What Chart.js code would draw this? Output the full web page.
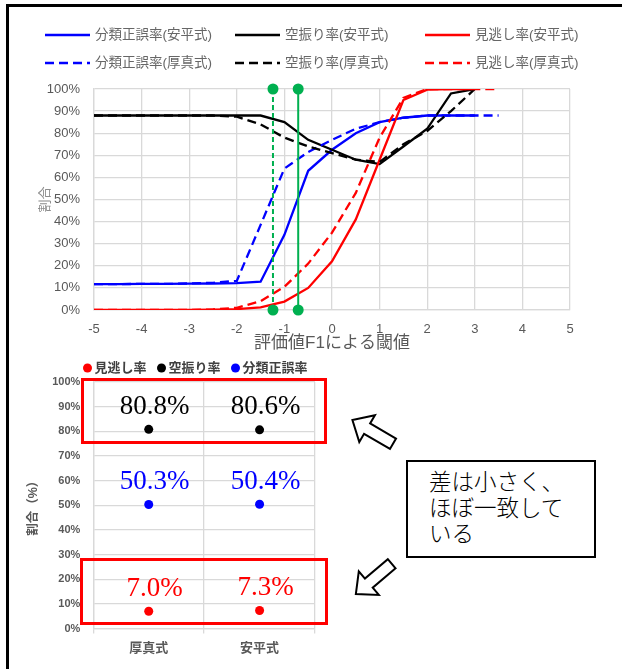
<!DOCTYPE html>
<html>
<head>
<meta charset="utf-8">
<script src="https://cdn.jsdelivr.net/npm/chart.js@4/dist/chart.umd.min.js"></script>
<style>
  html, body { margin: 0; padding: 0; background: #fff; }
  #page { position: relative; width: 622px; height: 669px; overflow: hidden; background: #fff; }
  #frame { position: absolute; left: 6px; top: 4px; width: 720px; height: 720px;
           border-left: 3px solid #000; border-top: 3px solid #000; }
  canvas { position: absolute; }
  #curves { left: 0; top: 0; }
  #rates { left: 0; top: 355px; }
  .hl { position: absolute; border: 3px solid #ff0000; box-sizing: border-box; }
  #note { position: absolute; left: 406px; top: 460px; width: 190px; height: 98px;
          border: 2px solid #000; box-sizing: border-box; background: #fff;
          font-family: "Noto Sans CJK JP", sans-serif; font-weight: 300;
          font-size: 22.5px; line-height: 26px; color: #000;
          padding: 5px 0 0 21px; white-space: nowrap; }
  #arrows { position: absolute; left: 0; top: 0; }
</style>
</head>
<body>
<div id="page">
  <div id="frame"></div>
  <canvas id="curves" width="622" height="360" style="width:622px;height:360px"></canvas>
  <canvas id="rates" width="622" height="314" style="width:622px;height:314px"></canvas>
  <div class="hl" style="left:81px;top:378px;width:246px;height:66px"></div>
  <div class="hl" style="left:80px;top:558px;width:248px;height:67px"></div>
  <svg id="arrows" width="622" height="669">
    <g transform="translate(393,443.8) rotate(210.3)">
      <polygon points="0,-6 30,-6 30,-15.5 47,0 30,15.5 30,6 0,6" fill="#fff" stroke="#000" stroke-width="2"/>
    </g>
    <g transform="translate(391.7,563.7) rotate(139.7)">
      <polygon points="0,-6 30,-6 30,-15.5 47,0 30,15.5 30,6 0,6" fill="#fff" stroke="#000" stroke-width="2"/>
    </g>
  </svg>
  <div id="note">差は小さく、<br>ほぼ一致して<br>いる</div>
</div>
<script>
// ---- threshold sweep (evaluation value F1) ----
const thresholds   = [-5, -4.5, -4, -3.5, -3, -2.5, -2, -1.5, -1, -0.5, 0, 0.5, 1, 1.5, 2, 2.5, 3, 3.5];
const accAbira     = [11.7, 11.7, 11.8, 11.8, 11.9, 12.0, 12.2, 12.8, 34, 63, 72.5, 80, 85, 87, 88, 88, 88, null];
const falseAbira   = [88, 88, 88, 88, 88, 88, 88, 88, 85, 77, 72.5, 68, 66, 74, 82, 98, 100, null];
const missAbira    = [0, 0, 0, 0, 0, 0.2, 0.4, 1.2, 3.8, 10, 22, 41, 68, 95, 99.7, 100, 100, null];
const accAtsuma    = [11.7, 11.7, 11.8, 11.8, 12.0, 12.3, 13.2, 38.5, 64, 71.5, 77, 82, 85, 87, 88, 88, 88, 88];
const falseAtsuma  = [88, 88, 88, 88, 88, 88, 87.5, 84, 78, 74, 71, 68, 67, 75, 81, 90, 100, null];
const missAtsuma   = [0, 0, 0, 0, 0, 0.3, 1, 4, 10.5, 21, 35, 53, 78, 96, 100, 100, 100, 100];
// chosen thresholds for each method
const cutAtsuma = -1.24;
const cutAbira  = -0.71;

// ---- rates at the chosen thresholds ----
const methods   = ['厚真式', '安平式'];
const missRate  = [7.0, 7.3];
const falseRate = [80.8, 80.6];
const accRate   = [50.3, 50.4];

const GRID = '#d9d9d9';
const SANS = '"Liberation Sans", "Noto Sans CJK JP", sans-serif';
Chart.defaults.font.family = SANS;
Chart.defaults.color = '#595959';

function curve(label, ys, color, dashed, order) {
  return {
    label, order,
    data: thresholds.map((x, i) => ({ x, y: ys[i] })).filter(p => p.y !== null),
    borderColor: color, backgroundColor: color,
    borderWidth: 2.3, borderDash: dashed ? [9, 5] : [],
    pointRadius: 0, tension: 0, fill: false
  };
}
function cutLine(x, dashed, order) {
  return {
    label: 'cut', order, clip: false,
    data: [{ x, y: 0 }, { x, y: 100 }],
    borderColor: '#00b050', backgroundColor: '#00b050',
    borderWidth: 2, borderDash: dashed ? [5, 3] : [],
    pointRadius: 5.5, pointBorderWidth: 0, pointBackgroundColor: '#00b050'
  };
}

// legend laid out as a fixed grid of line samples
const lineLegend = {
  id: 'lineLegend',
  afterDraw(chart, args, o) {
    const ctx = chart.ctx;
    ctx.save();
    ctx.font = o.font;
    ctx.textBaseline = 'middle';
    o.slots.forEach((slot, i) => {
      const ds = chart.data.datasets[i];
      const [x, y] = slot;
      ctx.strokeStyle = ds.borderColor;
      ctx.lineWidth = ds.borderWidth;
      ctx.setLineDash(ds.borderDash || []);
      ctx.beginPath(); ctx.moveTo(x, y); ctx.lineTo(x + o.sample, y); ctx.stroke();
      ctx.setLineDash([]);
      ctx.fillStyle = o.color;
      ctx.fillText(ds.label, x + o.sample + o.gap, y);
    });
    ctx.restore();
  }
};

new Chart(document.getElementById('curves'), {
  type: 'line',
  data: {
    datasets: [
      curve('分類正誤率(安平式)', accAbira, '#0000ff', false, 10),
      curve('空振り率(安平式)', falseAbira, '#000000', false, 9),
      curve('見逃し率(安平式)', missAbira, '#ff0000', false, 8),
      curve('分類正誤率(厚真式)', accAtsuma, '#0000ff', true, 7),
      curve('空振り率(厚真式)', falseAtsuma, '#000000', true, 6),
      curve('見逃し率(厚真式)', missAtsuma, '#ff0000', true, 5),
      cutLine(cutAtsuma, true, 4),
      cutLine(cutAbira, false, 3)
    ]
  },
  options: {
    responsive: false, animation: false,
    layout: { padding: { left: 38, top: 89, right: 52, bottom: 0 } },
    plugins: {
      legend: { display: false }, tooltip: { enabled: false },
      lineLegend: {
        font: '13.5px ' + SANS, color: '#666666', sample: 45, gap: 5,
        slots: [[45, 35], [235, 35], [425, 35], [45, 63], [235, 63], [425, 63]]
      }
    },
    scales: {
      x: {
        type: 'linear', min: -5, max: 5,
        ticks: { stepSize: 1, padding: 12, font: { size: 13 } },
        grid: { color: GRID, lineWidth: 1.3, drawTicks: false },
        border: { color: GRID, width: 1.3 },
        title: { display: true, text: '評価値F1による閾値', font: { size: 17 }, padding: { top: 0, bottom: 6 } },
        afterFit(s) { s.height = 50; }
      },
      y: {
        min: 0, max: 100,
        ticks: { stepSize: 10, padding: 14, font: { size: 13 }, callback: v => v + '%' },
        grid: { color: GRID, lineWidth: 1.3, drawTicks: false },
        border: { color: GRID, width: 1.3 },
        title: { display: true, text: '割合', font: { size: 13 }, color: '#8c8c8c', padding: 0 },
        afterFit(s) { s.width = 56; }
      }
    }
  },
  plugins: [lineLegend]
});

// legend with round markers, items placed one after another
const dotLegend = {
  id: 'dotLegend',
  afterDraw(chart, args, o) {
    const ctx = chart.ctx;
    ctx.save();
    ctx.font = o.font;
    ctx.textBaseline = 'middle';
    let x = o.x;
    chart.data.datasets.forEach(ds => {
      ctx.fillStyle = ds.backgroundColor;
      ctx.beginPath(); ctx.arc(x + o.r, o.y, o.r, 0, Math.PI * 2); ctx.fill();
      const tx = x + 2 * o.r + o.gap;
      ctx.fillStyle = o.color;
      ctx.fillText(ds.label, tx, o.y);
      x = tx + ctx.measureText(ds.label).width + o.spacing;
    });
    ctx.restore();
  }
};

// value labels above each marker
const valueLabels = {
  id: 'valueLabels',
  afterDatasetsDraw(chart, args, o) {
    const ctx = chart.ctx;
    ctx.save();
    ctx.font = o.font;
    ctx.textAlign = 'center';
    ctx.textBaseline = 'alphabetic';
    chart.data.datasets.forEach((ds, i) => {
      chart.getDatasetMeta(i).data.forEach((pt, j) => {
        ctx.fillStyle = ds.backgroundColor;
        ctx.fillText(ds.data[j].toFixed(1) + '%', pt.x + o.dx, pt.y - o.lift);
      });
    });
    ctx.restore();
  }
};

function dots(label, values, color) {
  return {
    label, data: values, showLine: false,
    backgroundColor: color, borderColor: color,
    pointRadius: 4.5, pointBorderWidth: 0, pointBackgroundColor: color
  };
}

new Chart(document.getElementById('rates'), {
  type: 'line',
  data: {
    labels: methods,
    datasets: [
      dots('見逃し率', missRate, '#ff0000'),
      dots('空振り率', falseRate, '#000000'),
      dots('分類正誤率', accRate, '#0000ff')
    ]
  },
  options: {
    responsive: false, animation: false,
    layout: { padding: { left: 26, top: 27, right: 307, bottom: 0 } },
    plugins: {
      legend: { display: false }, tooltip: { enabled: false },
      dotLegend: { font: 'bold 13px ' + SANS, color: '#404040', x: 83, y: 13, r: 4.5, gap: 2.5, spacing: 10.5 },
      valueLabels: { font: '27px "Liberation Serif", "DejaVu Serif", serif', dx: 6, lift: 15.5 }
    },
    scales: {
      x: {
        type: 'category', offset: true,
        grid: { offset: true, color: GRID, lineWidth: 1.3, tickLength: 5 },
        border: { color: GRID, width: 1.3 },
        ticks: { padding: 7, font: { size: 13, weight: 'bold' } },
        afterFit(s) { s.height = 40.5; }
      },
      y: {
        min: 0, max: 100,
        ticks: { stepSize: 10, padding: 13, font: { size: 11, weight: 'bold' }, callback: v => v + '%' },
        grid: { color: GRID, lineWidth: 1.3, drawTicks: false },
        border: { color: GRID, width: 1.3 },
        title: { display: true, text: '割合（%）', font: { size: 12.5, weight: 'bold' }, padding: 0 },
        afterFit(s) { s.width = 67.3; }
      }
    }
  },
  plugins: [dotLegend, valueLabels]
});
</script>
</body>
</html>
